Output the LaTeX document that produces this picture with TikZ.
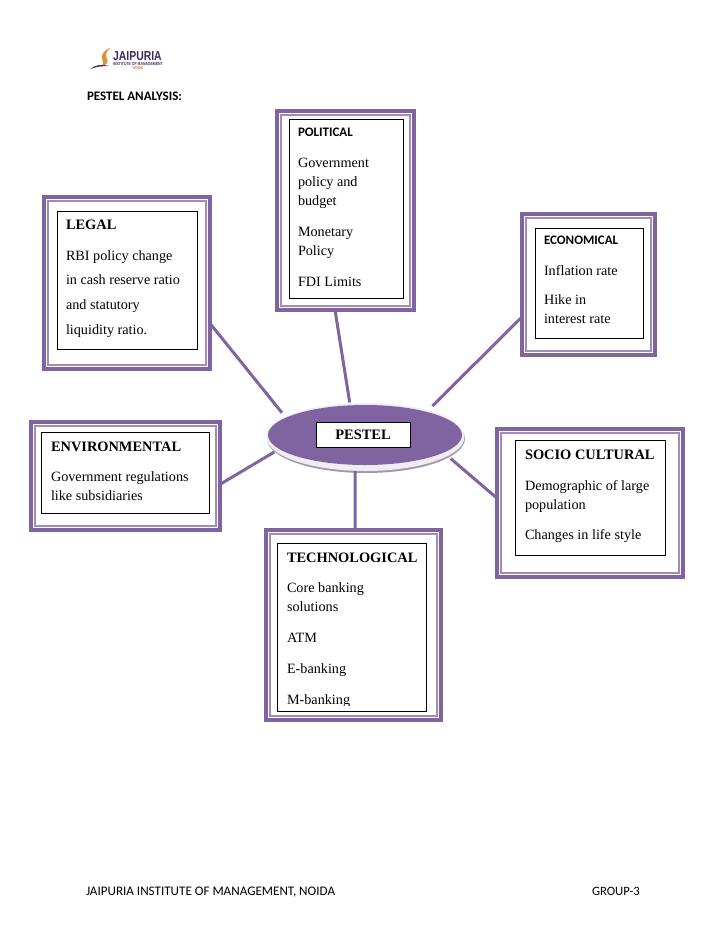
\documentclass[tikz,border=0pt]{standalone}
\usepackage{fontspec}
\usetikzlibrary{shapes.geometric}
\setmainfont{Liberation Serif}
\newfontfamily\headfont{Carlito}
\newfontfamily\logofont[FakeStretch=0.8]{Liberation Sans}
\definecolor{pestelpurple}{HTML}{8064A2}
\definecolor{hubshade}{HTML}{A297AE}
\definecolor{hubhalo}{HTML}{EFEDF2}
\definecolor{logodark}{HTML}{3B2A63}
\definecolor{logogold}{HTML}{D9952F}
\definecolor{logoorange}{HTML}{D8703A}
\tikzset{
  bodytext/.style={anchor=base west,inner sep=0pt,outer sep=0pt,font=\fontsize{14.2}{19}\selectfont},
  titletext/.style={anchor=base west,inner sep=0pt,outer sep=0pt,font=\fontsize{14.4}{19}\selectfont\bfseries},
  headtext/.style={anchor=base west,inner sep=0pt,outer sep=0pt,font=\headfont\fontsize{13}{15}\selectfont\bfseries},
  foottext/.style={anchor=base west,inner sep=0pt,outer sep=0pt,font=\headfont\fontsize{13.1}{15}\selectfont},
  link/.style={draw=pestelpurple,line width=3pt},
  panelbase/.style={rectangle,inner sep=0pt,outer sep=0pt},
  hubshape/.style={ellipse,inner sep=0pt,outer sep=0pt},
}
\newcommand{\stacklines}[1]{\begin{tabular}[t]{@{}l@{}}#1\end{tabular}}
% name, outer x1 y1 x2 y2, box x1 y1 x2 y2
\newcommand{\pestelpanel}[9]{%
  \pgfmathsetmacro{\cxa}{(#2+#4)/2}\pgfmathsetmacro{\cya}{(#3+#5)/2}%
  \pgfmathsetmacro{\wa}{#4-#2}\pgfmathsetmacro{\ha}{#5-#3}%
  \node[panelbase,draw=pestelpurple,line width=3.8pt,minimum width=\wa pt-3.8pt,minimum height=\ha pt-3.8pt] (#1) at (\cxa,\cya) {};
  \node[panelbase,draw=pestelpurple!75,line width=1.6pt,minimum width=\wa pt-12pt,minimum height=\ha pt-12pt] (#1ring) at (\cxa,\cya) {};
  \pgfmathsetmacro{\cxb}{(#6+#8)/2}\pgfmathsetmacro{\cyb}{(#7+#9)/2}%
  \pgfmathsetmacro{\wb}{#8-#6}\pgfmathsetmacro{\hb}{#9-#7}%
  \node[panelbase,draw=black,line width=1pt,minimum width=\wb pt,minimum height=\hb pt] (#1box) at (\cxb,\cyb) {};
}
\begin{document}
\begin{tikzpicture}[x=1pt,y=-1pt]
\useasboundingbox (0,0) rectangle (728,943);

% logo
\fill[logogold] (110.5,47.5) .. controls (103,51) and (100,56) .. (102.5,60) .. controls (104,62.5) and (103,65) .. (101,67) .. controls (107,65) and (109,62) .. (106.5,57.5) .. controls (105,54) and (107,51) .. (110.5,47.5) -- cycle;
\fill[logodark] (90,69) .. controls (95,65) and (101,64) .. (109,66) .. controls (103,65.8) and (97,66.5) .. (90,69) -- cycle;
\node[anchor=base west,inner sep=0pt,text=logodark,font=\logofont\fontsize{13}{14}\selectfont\bfseries] (logoname) at (113,60.5) {JAIPURIA};
\node[anchor=base west,inner sep=0pt,text=logodark,font=\logofont\fontsize{4.3}{5}\selectfont\bfseries] (logosub) at (113,65) {INSTITUTE OF MANAGEMENT};
\node[anchor=base,inner sep=0pt,text=logoorange,font=\logofont\fontsize{4.2}{5}\selectfont\bfseries] (logoplace) at (138,69.5) {NOIDA};

\node[headtext] (pageheading) at (87,100) {PESTEL ANALYSIS:};

% hub
\node[hubshape,fill=hubshade,minimum width=198pt,minimum height=69pt] (hubshadow) at (366,438.5) {};
\node[hubshape,fill=hubhalo,minimum width=198pt,minimum height=68pt] (hub) at (365.5,437) {};
\node[hubshape,fill=pestelpurple,minimum width=194pt,minimum height=60pt] (hubcore) at (365,435) {};
\node[panelbase,draw=black,fill=white,line width=1pt,minimum width=94pt,minimum height=25pt,font=\fontsize{14.4}{16}\selectfont\bfseries] (hublabel) at (363,434.5) {PESTEL};

% panels
\pestelpanel{political}{275}{109}{416}{312}{289}{119}{403}{298}
\pestelpanel{legal}{42}{195}{212}{371}{57}{211}{197}{349}
\pestelpanel{economical}{520}{212}{657}{357}{535}{228}{643}{338}
\pestelpanel{environmental}{29}{420}{222}{532}{41}{432}{209}{513}
\pestelpanel{socio}{495}{427}{685}{579}{515}{440}{665}{555}
\pestelpanel{technological}{264}{528}{443}{722}{277}{543}{426}{711}

% connectors
\draw[link,shorten >=1pt] (political.-96.9) -- (hub.115.9);
\draw[link,shorten >=5.5pt] (legal.-26) -- (hub.166);
\draw[link,shorten >=6.5pt] (economical.206.7) -- (hub.23);
\draw[link,shorten >=1.5pt] (environmental.-5.3) -- (hub.189.8);
\draw[link,shorten >=4pt] (socio.177.6) -- (hub.-13.2);
\draw[link] (technological.89.1) -- (hub.-107.2);

% political
\node[headtext] (polhead) at (298,136) {POLITICAL};
\node[bodytext] (pola) at (298,167) {\stacklines{Government\\policy and\\budget}};
\node[bodytext] (polb) at (298,236) {\stacklines{Monetary\\Policy}};
\node[bodytext] (polc) at (298,286) {FDI Limits};

% legal
\node[titletext] (leghead) at (66,229) {LEGAL};
\node[bodytext,font=\fontsize{14.2}{24.7}\selectfont] (lega) at (66,260) {\stacklines{RBI policy change\\in cash reserve ratio\\and statutory\\liquidity ratio.}};

% economical
\node[headtext] (ecohead) at (544,244) {ECONOMICAL};
\node[bodytext] (ecoa) at (544,275) {Inflation rate};
\node[bodytext] (ecob) at (544,304) {\stacklines{Hike in\\interest rate}};

% environmental
\node[titletext] (envhead) at (51,451) {ENVIRONMENTAL};
\node[bodytext] (enva) at (51,481) {\stacklines{Government regulations\\like subsidiaries}};

% socio cultural
\node[titletext] (sochead) at (525,459) {SOCIO CULTURAL};
\node[bodytext] (soca) at (525,490) {\stacklines{Demographic of large\\population}};
\node[bodytext] (socb) at (525,539) {Changes in life style};

% technological
\node[titletext] (techead) at (287,562) {TECHNOLOGICAL};
\node[bodytext] (teca) at (287,592) {\stacklines{Core banking\\solutions}};
\node[bodytext] (tecb) at (287,642) {ATM};
\node[bodytext] (tecc) at (287,673) {E-banking};
\begin{scope}
\clip (277,690) rectangle (426,705.5);
\node[bodytext] (tecd) at (287,704) {M-banking};
\end{scope}

% footer
\node[foottext] (footleft) at (86,895) {JAIPURIA INSTITUTE OF MANAGEMENT, NOIDA};
\node[foottext,font=\headfont\fontsize{12.7}{15}\selectfont] (footright) at (592,895) {GROUP-3};
\end{tikzpicture}
\end{document}
